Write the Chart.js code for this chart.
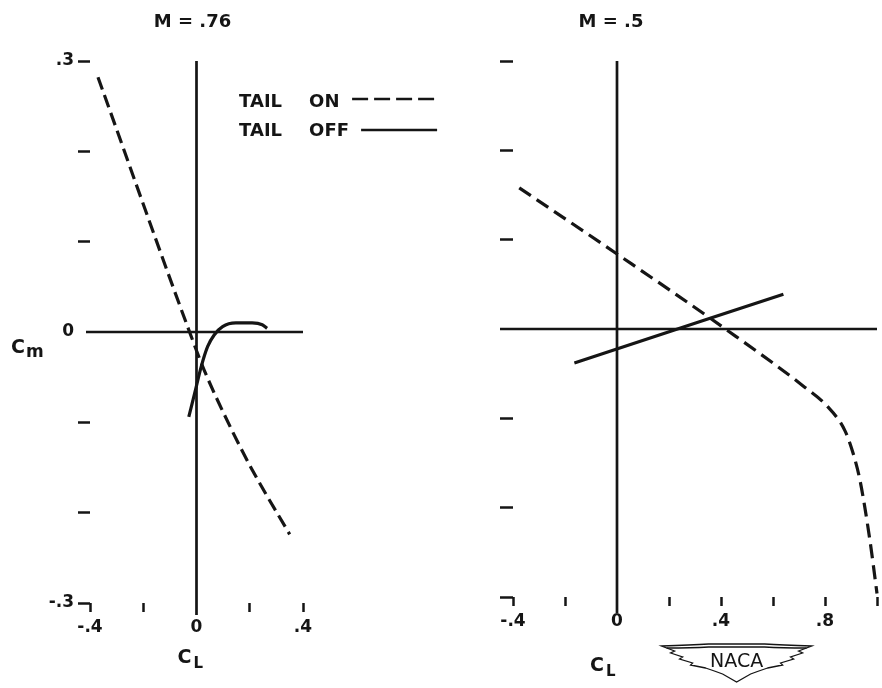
<!DOCTYPE html>
<html>
<head>
<meta charset="utf-8">
<title>Cm vs CL, tail on / tail off</title>
<script src="https://cdn.jsdelivr.net/npm/chart.js@4.4.1/dist/chart.umd.min.js"></script>
<style>
  html, body { margin: 0; padding: 0; background: #fff; }
  #wrap { position: relative; width: 882px; height: 688px; }
  .panel { position: absolute; top: 0; height: 688px; }
  #left { left: 0; width: 450px; }
  #right { left: 450px; width: 432px; }
</style>
</head>
<body>
<div id="wrap">
  <div class="panel" id="left"><canvas id="c76"></canvas></div>
  <div class="panel" id="right"><canvas id="c50"></canvas></div>
</div>
<script>
// --- data ---
// M = .76
const m76TailOnCL  = [-0.37, -0.026, 0.03, 0.13, 0.21, 0.35];
const m76TailOnCm  = [0.282, 0.0, -0.043, -0.107, -0.153, -0.224];
const m76TailOffCL = [-0.029, -0.007, 0.018, 0.042, 0.067, 0.098, 0.148, 0.209, 0.247, 0.265];
const m76TailOffCm = [-0.094, -0.068, -0.038, -0.016, -0.003, 0.006, 0.010, 0.010, 0.008, 0.004];
// M = .5
const m50TailOnCL  = [-0.376, 0.0, 0.422, 0.717, 0.807, 0.877, 0.909, 0.935, 0.973, 1.0];
const m50TailOnCm  = [0.158, 0.084, -0.001, -0.064, -0.086, -0.114, -0.140, -0.170, -0.237, -0.296];
const m50TailOffCL = [-0.164, 0.64];
const m50TailOffCm = [-0.038, 0.039];

// axes
const cmRange = [-0.3, 0.3];
const m76ClRange = [-0.4, 0.4];
const m50ClRange = [-0.4, 1.0];
const m76ClLabels = [-0.4, 0, 0.4];
const m50ClLabels = [-0.4, 0, 0.4, 0.8];
const m76CmLabels = [0.3, 0, -0.3];
const m50CmLabels = [];

const INK = '#151515';
const FONT = '"DejaVu Sans", "Liberation Sans", sans-serif';

const zip = (xs, ys) => xs.map((x, i) => ({ x, y: ys[i] }));
const isZero = v => Math.abs(v) < 1e-9;
const has = (list, v) => list.some(l => Math.abs(l - v) < 1e-6);
const fmt = v => isZero(v) ? '0' : String(Math.round(v * 10) / 10).replace('0.', '.');

// zero axes, titles, legend and symbols
const nacaDecor = {
  id: 'nacaDecor',
  beforeDatasetsDraw(chart, args, o) {
    const { ctx, chartArea: a, scales: { x, y } } = chart;
    const x0 = x.getPixelForValue(0), y0 = y.getPixelForValue(0);
    ctx.save();
    ctx.strokeStyle = INK;
    ctx.lineWidth = 2.7;
    ctx.beginPath();
    ctx.moveTo(a.left - o.zeroLead, y0);
    ctx.lineTo(a.right, y0);
    ctx.moveTo(x0, a.top);
    ctx.lineTo(x0, a.bottom + o.axisTail);
    ctx.stroke();
    ctx.restore();
  },
  afterDraw(chart, args, o) {
    const { ctx, chartArea: a, scales: { x } } = chart;
    const x0 = x.getPixelForValue(0);
    ctx.save();
    ctx.fillStyle = INK;
    ctx.strokeStyle = INK;
    ctx.textBaseline = 'alphabetic';

    // title
    ctx.font = `bold 18px ${FONT}`;
    ctx.textAlign = 'center';
    ctx.fillText(o.title, x0 + o.titleDx, 27);

    // C_L
    ctx.textAlign = 'left';
    ctx.font = `bold 19px ${FONT}`;
    ctx.fillText('C', x0 + o.clDx, o.clY);
    ctx.font = `bold 15px ${FONT}`;
    ctx.fillText('L', x0 + o.clDx + 16, o.clY + 5);

    if (o.cm) {
      ctx.font = `bold 19px ${FONT}`;
      ctx.fillText('C', 11, 353);
      ctx.font = `bold 17px ${FONT}`;
      ctx.fillText('m', 26, 357);
    }

    if (o.legend) {
      const lx = x.getPixelForValue(0.16);
      ctx.font = `bold 18px ${FONT}`;
      ctx.fillText('TAIL', lx, 107);
      ctx.fillText('ON', lx + 70, 107);
      ctx.fillText('TAIL', lx, 136);
      ctx.fillText('OFF', lx + 70, 136);
      ctx.lineWidth = 2.7;
      ctx.setLineDash([16, 6]);
      ctx.beginPath();
      ctx.moveTo(lx + 113, 99); ctx.lineTo(lx + 198, 99);
      ctx.stroke();
      ctx.setLineDash([]);
      ctx.beginPath();
      ctx.moveTo(lx + 122, 130); ctx.lineTo(lx + 198, 130);
      ctx.stroke();
    }

    if (o.logo) {
      const cx = x.getPixelForValue(0.46), cy = a.bottom + 63;
      ctx.translate(cx, cy);
      ctx.lineWidth = 1.3;
      ctx.beginPath();
      ctx.moveTo(-75, -14);
      ctx.quadraticCurveTo(-45, -15, -28, -16);
      ctx.lineTo(28, -16);
      ctx.quadraticCurveTo(45, -15, 75, -14);
      ctx.lineTo(62, -9); ctx.lineTo(66, -7); ctx.lineTo(54, -3); ctx.lineTo(57, -1);
      ctx.lineTo(44, 3); ctx.lineTo(46, 5); ctx.lineTo(31, 8);
      ctx.quadraticCurveTo(22, 11, 14, 14);
      ctx.lineTo(0, 22); ctx.lineTo(-14, 14);
      ctx.quadraticCurveTo(-22, 11, -31, 8);
      ctx.lineTo(-46, 5); ctx.lineTo(-44, 3); ctx.lineTo(-57, -1); ctx.lineTo(-54, -3);
      ctx.lineTo(-66, -7); ctx.lineTo(-62, -9);
      ctx.closePath();
      ctx.stroke();
      ctx.beginPath();
      ctx.moveTo(-70, -12); ctx.quadraticCurveTo(-45, -12, -28, -13);
      ctx.lineTo(28, -13); ctx.quadraticCurveTo(45, -12, 70, -12);
      ctx.stroke();
      ctx.font = `19px ${FONT}`;
      ctx.textAlign = 'center';
      ctx.fillText('NACA', 0, 7);
    }
    ctx.restore();
  }
};

function lineSet(label, xs, ys, dash) {
  return {
    label,
    data: zip(xs, ys),
    showLine: true,
    borderColor: INK,
    borderWidth: 3.2,
    borderDash: dash,
    pointRadius: 0,
    cubicInterpolationMode: 'monotone',
    fill: false,
    clip: false
  };
}

function makePanel(canvasId, cfg) {
  const tickFont = { family: FONT, size: 17, weight: 'bold' };
  return new Chart(document.getElementById(canvasId), {
    type: 'scatter',
    data: {
      datasets: [
        lineSet('TAIL ON', cfg.onCL, cfg.onCm, cfg.dash),
        lineSet('TAIL OFF', cfg.offCL, cfg.offCm, [])
      ]
    },
    options: {
      responsive: true,
      maintainAspectRatio: false,
      animation: false,
      layout: { padding: cfg.padding },
      plugins: {
        legend: { display: false },
        tooltip: { enabled: false },
        nacaDecor: cfg.decor
      },
      scales: {
        x: {
          type: 'linear',
          min: cfg.clRange[0], max: cfg.clRange[1],
          border: { display: false },
          grid: {
            drawOnChartArea: false, drawTicks: true, tickLength: 9, tickWidth: 2.5,
            tickColor: c => isZero(c.tick.value) ? 'rgba(0,0,0,0)' : INK
          },
          ticks: {
            stepSize: 0.2, color: INK, font: tickFont, padding: 5, maxRotation: 0, autoSkip: false,
            callback: v => has(cfg.clLabels, v) ? fmt(v) : ''
          },
          afterFit: s => { s.height = 40; }
        },
        y: {
          type: 'linear',
          min: cmRange[0], max: cmRange[1],
          border: { display: false },
          grid: {
            drawOnChartArea: false, drawTicks: true, tickLength: cfg.yTick, tickWidth: 2.5,
            tickColor: c => isZero(c.tick.value) ? 'rgba(0,0,0,0)' : INK
          },
          ticks: {
            stepSize: 0.1, color: INK, font: tickFont, padding: 4, autoSkip: false,
            callback: v => has(cfg.cmLabels, v) ? fmt(v) : ''
          },
          afterFit: s => { s.width = cfg.yWidth; }
        }
      }
    },
    plugins: [nacaDecor]
  });
}

makePanel('c76', {
  onCL: m76TailOnCL, onCm: m76TailOnCm, offCL: m76TailOffCL, offCm: m76TailOffCm,
  dash: [13, 6], clRange: m76ClRange, clLabels: m76ClLabels, cmLabels: m76CmLabels,
  yWidth: 90, yTick: 12,
  padding: { left: 0, right: 147, top: 61, bottom: 45 },
  decor: { title: 'M = .76', titleDx: -4, clDx: -19, clY: 663, cm: true, legend: true, logo: false, zeroLead: 4, axisTail: 12 }
});

makePanel('c50', {
  onCL: m50TailOnCL, onCm: m50TailOnCm, offCL: m50TailOffCL, offCm: m50TailOffCm,
  dash: [14, 7], clRange: m50ClRange, clLabels: m50ClLabels, cmLabels: m50CmLabels,
  yWidth: 63, yTick: 13,
  padding: { left: 0, right: 5, top: 61, bottom: 51 },
  decor: { title: 'M = .5', titleDx: -6, clDx: -27, clY: 671, cm: false, legend: false, logo: true, zeroLead: 13, axisTail: 16 }
});
</script>
</body>
</html>
